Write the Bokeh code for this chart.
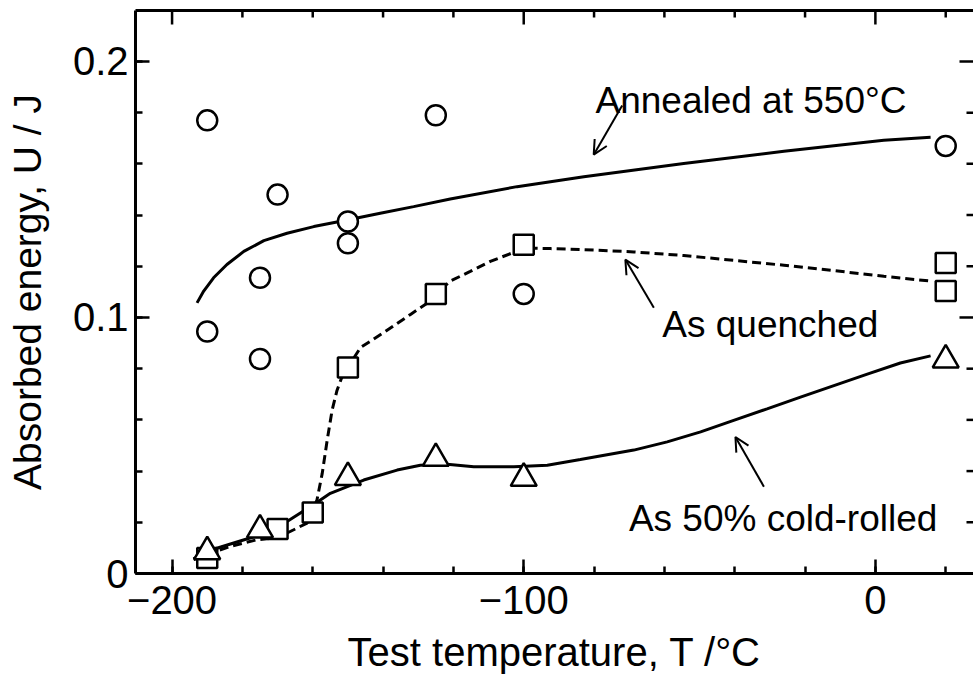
from bokeh.plotting import figure
from bokeh.models import (Range1d, LinearAxis, FixedTicker, Label, Arrow, OpenHead)
from bokeh.embed import file_html
from bokeh.resources import INLINE

# Annealed at 550 C (circles)
annealed_T = [-190, -190, -175, -175, -170, -150, -150, -125, -100, 20]
annealed_U = [0.177, 0.0945, 0.1155, 0.0838, 0.148, 0.1375, 0.129, 0.179, 0.1092, 0.167]
# As quenched (squares)
quenched_T = [-190, -170, -160, -150, -125, -100, 20, 20]
quenched_U = [0.0061, 0.0174, 0.0238, 0.0805, 0.1092, 0.1284, 0.1213, 0.1103]
# As 50% cold-rolled (triangles)
rolled_T = [-190, -175, -150, -125, -100, 20]
rolled_U = [0.0085, 0.017, 0.0375, 0.045, 0.0372, 0.0834]

# trend curves, points
annealed_fit_T = [-192.9, -191, -188.2, -184.4, -179.6, -173.9, -167.3, -159.7, -150.2,
                  -140.8, -131.3, -120.9, -101.9, -82.9, -54.5, -26, 2.4, 15.7]
annealed_fit_U = [0.1057, 0.1103, 0.1155, 0.1207, 0.1258, 0.130, 0.1329, 0.1355, 0.1381,
                  0.1407, 0.1433, 0.1463, 0.1511, 0.155, 0.1601, 0.1649, 0.1692, 0.1704]
quenched_fit_T = [-193.9, -190.2, -183.4, -175.8, -170.1, -165.4, -161.6, -158.8, -157.3,
                  -155.9, -154.5, -153.1, -151.2, -150, -146.4, -139.8, -132.2, -126.5,
                  -125, -120.9, -115.2, -109.5, -103.3, -100.2, -92.4, -82.9, -68.7,
                  -54.5, -40.3, -26, -11.8, 2.4, 15.7]
quenched_fit_U = [0.0054, 0.0074, 0.0106, 0.0132, 0.0139, 0.0171, 0.0197, 0.0287, 0.0391,
                  0.052, 0.0637, 0.0715, 0.0786, 0.0805, 0.0883, 0.0941, 0.1012, 0.1064,
                  0.1092, 0.1142, 0.118, 0.1219, 0.1252, 0.1271, 0.1269, 0.1265, 0.1256,
                  0.1242, 0.1223, 0.1204, 0.1183, 0.1161, 0.1142]
rolled_fit_T = [-193.9, -190, -183.4, -175.4, -167.3, -159.9, -155, -145.5, -136, -129.4,
                -121.8, -114.2, -102.8, -93.3, -83.9, -68.7, -59.2, -49.7, -40.3, -30.8,
                -21.3, -11.8, -2.3, 7.1, 15.7]
rolled_fit_U = [0.0057, 0.0087, 0.0115, 0.0149, 0.0203, 0.0268, 0.0313, 0.0365, 0.0404,
                0.0423, 0.0427, 0.0417, 0.0417, 0.0423, 0.0445, 0.0482, 0.0514, 0.0553,
                0.0598, 0.0643, 0.0689, 0.0734, 0.0779, 0.0822, 0.085]

x_major = [-200, -100, 0]
x_minor = [-200, -180, -160, -140, -120, -100, -80, -60, -40, -20, 0, 20]
x_labels = {-200: "\u2212200", -100: "\u2212100", 0: "0"}
y_major = [0, 0.1, 0.2]
y_minor = [0, 0.02, 0.04, 0.06, 0.08, 0.1, 0.12, 0.14, 0.16, 0.18, 0.2]
y_labels = {0: "0", 0.1: "0.1", 0.2: "0.2"}

FONT = "Liberation Sans"
X0, X1 = -210.4, 27.9
Y0, Y1 = 0.0, 0.2199
W, H = 973, 676
BL, BR, BT, BB = 135, 0, 10, 102

p = figure(width=W, height=H, output_backend="svg", toolbar_location=None,
           x_range=Range1d(X0, X1), y_range=Range1d(Y0, Y1),
           min_border_left=BL, min_border_right=BR, min_border_top=BT,
           min_border_bottom=BB)
p.outline_line_color = None
p.xgrid.visible = False
p.ygrid.visible = False
p.background_fill_color = "white"
p.border_fill_color = "white"

# data units per screen pixel (for inward tick lengths on the top/right sides)
xpx = (X1 - X0) / (W - BL - BR)
ypx = (Y1 - Y0) / (H - BT - BB)


def style_axis(ax, ticks, minor, labels):
    ax.ticker = FixedTicker(ticks=ticks, minor_ticks=minor)
    ax.axis_line_width = 3
    ax.axis_line_color = "black"
    ax.major_tick_in = 14
    ax.major_tick_out = 0
    ax.minor_tick_in = 7
    ax.minor_tick_out = 0
    ax.major_tick_line_width = 2.5
    ax.minor_tick_line_width = 2.5
    ax.major_tick_line_color = "black"
    ax.minor_tick_line_color = "black"
    ax.major_label_overrides = labels
    ax.major_label_text_font = FONT
    ax.major_label_text_font_size = "40px"
    ax.major_label_text_color = "black"
    ax.axis_label_text_font = FONT
    ax.axis_label_text_font_style = "normal"
    ax.axis_label_text_color = "black"


xb = p.xaxis[0]
style_axis(xb, x_major, x_minor, x_labels)
xb.major_label_standoff = 12
xb.axis_label = "Test temperature, T /\u00b0C"
xb.axis_label_text_font_size = "40px"
xb.axis_label_standoff = 13

yl = p.yaxis[0]
style_axis(yl, y_major, y_minor, y_labels)
yl.major_label_standoff = 7
yl.axis_label = "Absorbed energy, U / J"
yl.axis_label_text_font_size = "39px"
yl.axis_label_standoff = 21

# top frame line (no ticks of its own)
xt = LinearAxis(ticker=FixedTicker(ticks=[], minor_ticks=[]), axis_line_width=3,
                axis_line_color="black")
p.add_layout(xt, "above")

# inward ticks on top and right sides
top_len = [(14 if t in x_major else 7) * ypx for t in x_minor]
p.segment(x0=x_minor, y0=[Y1] * len(x_minor), x1=x_minor,
          y1=[Y1 - d for d in top_len], line_color="black", line_width=2.5)
right_len = [(14 if any(abs(t - m) < 1e-9 for m in y_major) else 7) * xpx for t in y_minor]
p.segment(x0=[X1] * len(y_minor), y0=y_minor, x1=[X1 - d for d in right_len],
          y1=y_minor, line_color="black", line_width=2.5)

# curves
p.line(annealed_fit_T, annealed_fit_U, line_color="black", line_width=3)
p.line(quenched_fit_T, quenched_fit_U, line_color="black", line_width=3, line_dash="9 5")
p.line(rolled_fit_T, rolled_fit_U, line_color="black", line_width=3)

# markers
p.scatter(annealed_T, annealed_U, marker="circle", size=20, fill_color="white",
          line_color="black", line_width=2.5)
p.scatter(quenched_T, quenched_U, marker="square", size=20, fill_color="white",
          line_color="black", line_width=2.5)
p.scatter(rolled_T, rolled_U, marker="triangle", size=26, fill_color="white",
          line_color="black", line_width=2.5)


def lab(x, y, text, size="37px"):
    p.add_layout(Label(x=x, y=y, text=text, text_font=FONT, text_font_size=size,
                       text_color="black", text_align="left",
                       text_baseline="alphabetic"))


lab(-79.6, 0.1847, "Annealed at 550\u00b0C")
lab(-60.6, 0.0974, "As quenched")
lab(-70.1, 0.0216, "As 50% cold-rolled")

for xs, ys, xe, ye in [(-72.0, 0.1828, -80.1, 0.1636),
                       (-63.0, 0.1038, -71.1, 0.1226),
                       (-31.7, 0.0339, -39.8, 0.0533)]:
    p.add_layout(Arrow(end=OpenHead(size=14, line_width=2, line_color="black"),
                       x_start=xs, y_start=ys, x_end=xe, y_end=ye,
                       line_width=2, line_color="black"))

open("out.html", "w").write(file_html(p, INLINE))
